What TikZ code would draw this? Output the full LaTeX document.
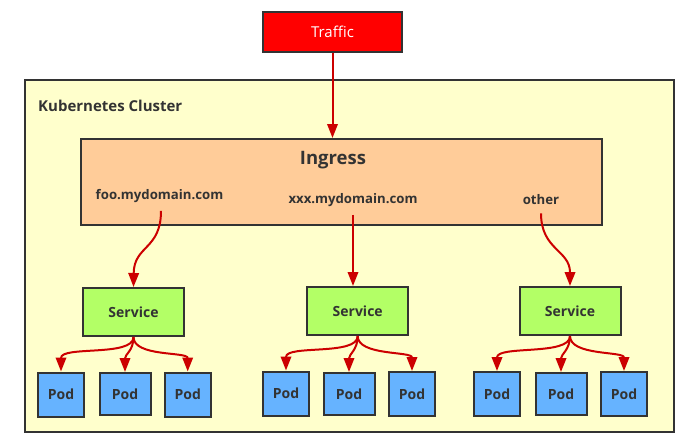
\documentclass[tikz,border=0pt]{standalone}
\usepackage{fontspec}
\setmainfont{Open Sans}
\usetikzlibrary{arrows.meta}
\definecolor{edge}{HTML}{333333}
\definecolor{arr}{HTML}{CC0000}
\definecolor{clusterfill}{HTML}{FFFFCC}
\definecolor{ingressfill}{HTML}{FFCC99}
\definecolor{servicefill}{HTML}{B3FF66}
\definecolor{podfill}{HTML}{66B3FF}
\definecolor{trafficfill}{HTML}{FF0000}
\tikzset{
  box/.style={draw=edge, line width=2pt, rectangle, inner sep=0pt, text=edge, font=\bfseries},
  trafficbox/.style={box, fill=trafficfill, text=white, font=\fontsize{15}{18}\selectfont, minimum width=139pt, minimum height=40pt},
  clusterbox/.style={box, fill=clusterfill, minimum width=649pt, minimum height=352pt},
  ingressbox/.style={box, fill=ingressfill, minimum width=521pt, minimum height=86pt},
  servicebox/.style={box, fill=servicefill, font=\bfseries\fontsize{14}{16}\selectfont, minimum width=101pt, minimum height=48pt},
  podbox/.style={box, fill=podfill, font=\bfseries\fontsize{14}{16}\selectfont, minimum width=46pt, minimum height=44pt},
  podmid/.style={podbox, minimum width=51pt, minimum height=42pt},
  lbl/.style={text=edge, font=\bfseries\fontsize{13.2}{15}\selectfont, inner sep=0pt},
  flow/.style={draw=arr, line width=2pt, -{Triangle[length=14pt,width=10.5pt]}},
}
\begin{document}
\begin{tikzpicture}[x=1pt,y=-1pt]
\useasboundingbox (0,0) rectangle (698,444);
\node[clusterbox] (cluster) at (349.5,256) {};
\node[lbl, anchor=west, font=\bfseries\fontsize{15}{18}\selectfont] (clab) at (38,106) {Kubernetes Cluster};
\node[trafficbox] (traffic) at (332.5,32) {Traffic};
\node[ingressbox] (ingress) at (341.5,182) {};
\node[lbl, font=\bfseries\fontsize{18.5}{22}\selectfont] (ingt) at (333,160) {Ingress};
\node[lbl] (foo) at (159.5,196) {foo.mydomain.com};
\node[lbl] (xxx) at (353,200) {xxx.mydomain.com};
\node[lbl] (other) at (541,200) {other};

\node[servicebox] (s1) at (133.5,312) {Service};
\node[servicebox] (s2) at (357.7,311) {Service};
\node[servicebox] (s3) at (570,311) {Service};

\node[podbox] (p11) at (61,394.5) {Pod};
\node[podmid] (p12) at (125,394) {Pod};
\node[podbox] (p13) at (187.7,394.5) {Pod};
\node[podbox] (p21) at (286,393.5) {Pod};
\node[podmid] (p22) at (349,394) {Pod};
\node[podbox] (p23) at (412,394) {Pod};
\node[podbox] (p31) at (497,394) {Pod};
\node[podmid] (p32) at (561,394) {Pod};
\node[podbox] (p33) at (624,394) {Pod};

\draw[flow] (traffic.south) -- (traffic.south |- ingress.north);

\draw[flow] ([yshift=-8pt]foo.south -| 161,0) .. controls (161,250) and (134,245) .. (s1.north);
\draw[flow] ([yshift=-8pt]xxx.south) -- (xxx.south |- s2.north);
\draw[flow] ([yshift=-8pt]other.south) .. controls (541,250) and (570,250) .. (s3.north);

\foreach \s/\a/\b/\c in {s1/p11/p12/p13, s2/p21/p22/p23, s3/p31/p32/p33}{
  \draw[flow] (\s.south) .. controls ([yshift=-20pt]\s.south) and ([yshift=26pt]\a.north) .. (\a.north);
  \draw[flow] (\s.south) .. controls ([yshift=-14pt]\s.south) and ([yshift=18pt]\b.north) .. (\b.north);
  \draw[flow] (\s.south) .. controls ([yshift=-20pt]\s.south) and ([yshift=20pt]\c.north) .. (\c.north);
}
\end{tikzpicture}
\end{document}
